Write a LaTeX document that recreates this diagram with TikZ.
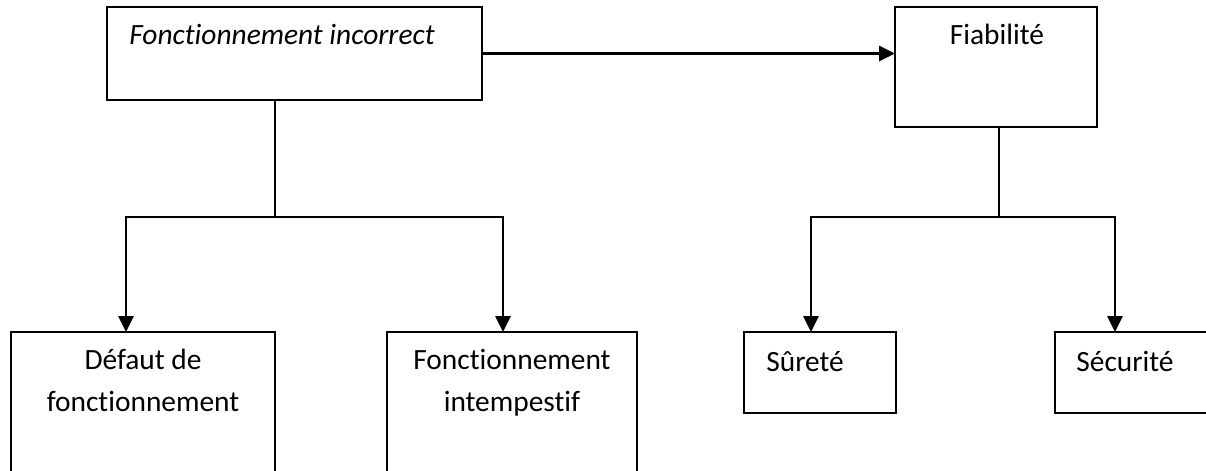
\documentclass[tikz,border=0pt]{standalone}
\usepackage{fontspec}
\setmainfont{Carlito}[Ligatures={TeX,NoCommon}]
\usetikzlibrary{arrows.meta}
\begin{document}
\begin{tikzpicture}[x=0.5pt,y=-0.5pt,
  box/.style={draw, line width=1pt, rectangle, anchor=north west, inner sep=0pt, outer sep=0pt},
  txt/.style={inner sep=0pt, font=\fontsize{14.7}{21}\selectfont, align=center},
  stem/.style={line width=1pt},
  arr/.style={line width=1.4pt, -{Triangle[length=8pt,width=7.5pt]}}]
\useasboundingbox (0,0) rectangle (1206,471);
\clip (0,0) rectangle (1206,471);
% boxes
\node[box, minimum width=187.5pt, minimum height=46.5pt] (A) at (107,7) {};
\node[box, minimum width=101pt, minimum height=60pt] (B) at (895,7) {};
\node[box, minimum width=132pt, minimum height=75pt] (C) at (11,332) {};
\node[box, minimum width=125pt, minimum height=75pt] (D) at (387,332) {};
\node[box, minimum width=76pt, minimum height=40.5pt] (E) at (744,332) {};
\node[box, minimum width=80pt, minimum height=40.5pt] (F) at (1055,332) {};
% texts
\node[txt, anchor=base west, font=\fontsize{14.7}{21}\selectfont\itshape] (tA) at (129,44) {Fonctionnement incorrect};
\node[txt, anchor=base] (tB) at (997,44) {Fiabilité};
\node[txt, anchor=base] (tC) at (143,411) {Défaut de\\fonctionnement};
\node[txt, anchor=base] (tD) at (512,411) {Fonctionnement\\intempestif};
\node[txt, anchor=base west] (tE) at (766,371) {Sûreté};
\node[txt, anchor=base west] (tF) at (1076,371) {Sécurité};
% connectors
\coordinate (jL) at (275,217);
\coordinate (jR) at (999,217);
\coordinate (pC) at (126,332);
\coordinate (pD) at (503,332);
\coordinate (pE) at (811,332);
\coordinate (pF) at (1115,332);
\draw[arr] (A.east) -- (A.east -| B.west);
\draw[stem] (A.south -| jL) -- (jL);
\draw[arr] (jL) -| (pC);
\draw[arr] (jL) -| (pD);
\draw[stem] (B.south -| jR) -- (jR);
\draw[arr] (jR) -| (pE);
\draw[arr] (jR) -| (pF);
\end{tikzpicture}
\end{document}
